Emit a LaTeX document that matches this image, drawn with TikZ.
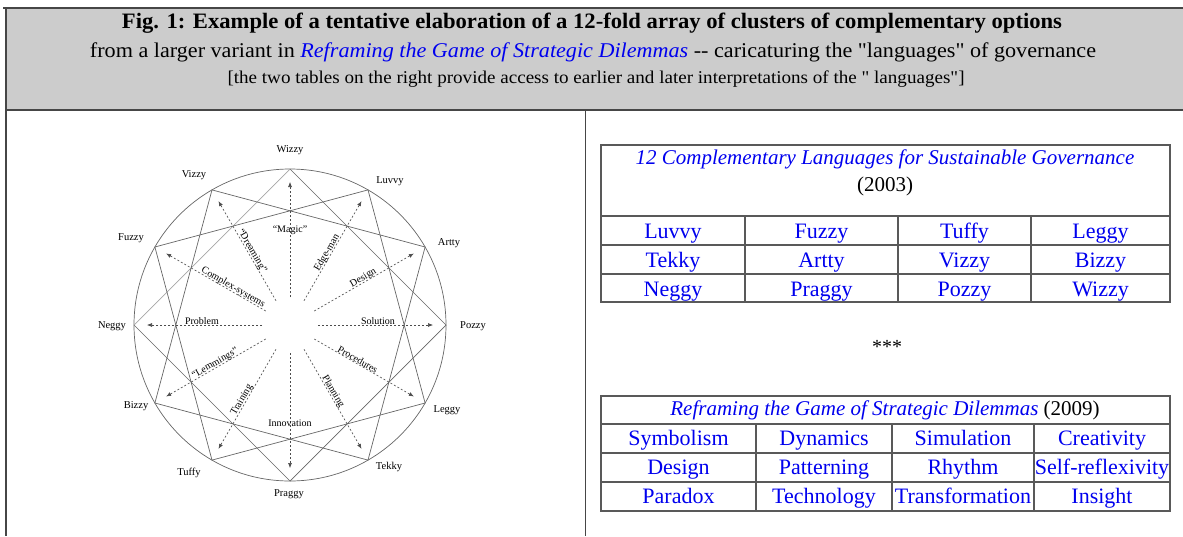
\documentclass[tikz,border=0pt]{standalone}
\usepackage{fontspec}
\setmainfont{Liberation Serif}[Ligatures=TeXOff]
\usepackage{graphicx}
\usetikzlibrary{calc, arrows.meta}

\definecolor{headgray}{RGB}{204,204,204}
\definecolor{framegray}{RGB}{70,70,70}
\definecolor{linkblue}{RGB}{0,0,238}

\newcommand{\fitto}[2]{\resizebox{#1}{\height}{#2}}

\begin{document}
\begin{tikzpicture}[x=1pt, y=1pt,
    frame/.style={framegray, line width=1.5pt},
    chord/.style={gray!80!black, line width=0.7pt},
    spoke/.style={gray!60!black, dash pattern=on 2pt off 2pt, line width=0.6pt, -{Latex[length=5pt, width=4pt]}},
    vlabel/.style={font=\fontsize{10.5}{12}\selectfont, inner sep=0pt},
    slabel/.style={font=\fontsize{10}{11}\selectfont, inner sep=0.5pt},
    cell/.style={font=\fontsize{22}{26}\selectfont, text=linkblue, inner sep=0pt, anchor=base},
    tabline/.style={black!65, line width=1.6pt},
]
    \useasboundingbox (0,0) rectangle (1183,-536);

    % header band
    \fill[headgray] (6,-9) rectangle (1183,-110);
    \draw[frame, line width=2.5pt] (3,-8) -- (1183,-8);
    \draw[frame] (6,-8) -- (6,-536);
    \draw[frame] (6,-110) -- (1183,-110);
    \draw[frame, line width=1pt] (585,-110) -- (585,-536);

    \node (title) at (592,-23) {\fitto{940pt}{\fontsize{22}{24}\selectfont\bfseries Fig. 1: Example of a tentative elaboration of a 12-fold array of clusters of complementary options}};
    \node (subtitle) at (593,-52) {\fitto{1006pt}{\fontsize{21}{24}\selectfont from a larger variant in \textcolor{linkblue}{\itshape Reframing the Game of Strategic Dilemmas} -- caricaturing the "languages" of governance}};
    \node (note) at (596,-79) {\fitto{737pt}{\fontsize{18}{20}\selectfont [the two tables on the right provide access to earlier and later interpretations of the " languages"]}};

    % circle of languages
    \coordinate (C) at (290,-325);
    \draw[chord] (C) circle (156);
    \foreach \n/\a in {Wizzy/90, Luvvy/60, Artty/30, Pozzy/0, Leggy/-30, Tekky/-60,
                       Praggy/-90, Tuffy/-120, Bizzy/-150, Neggy/180, Fuzzy/150, Vizzy/120}
        \coordinate (\n) at ($(C)+(\a:156)$);

    \foreach \n/\x/\y in {Wizzy/290/150, Luvvy/390/181, Artty/449/243, Pozzy/473/326,
                          Leggy/447/410, Tekky/389/467, Praggy/289/494, Tuffy/189/473,
                          Bizzy/136/406, Neggy/112/326, Fuzzy/131/238, Vizzy/194/175}
        \node[vlabel] (lab-\n) at (\x,-\y) {\n};

    % three squares
    \draw[chord] (Wizzy) -- (Pozzy) -- (Praggy) -- (Neggy);
    \draw[chord, gray!70] (Neggy) -- (Wizzy);
    \draw[chord] (Luvvy) -- (Leggy) -- (Tuffy) -- (Fuzzy) -- cycle;
    \draw[chord] (Artty) -- (Tekky) -- (Bizzy) -- (Vizzy) -- cycle;

    % spokes
    \foreach \a/\r/\rot/\txt in {90/91/0/{“Magic”}, 60/81/60/Edge-man, 30/87/30/Design,
                                 0/88/0/Solution, -30/76/-30/Procedures, -60/79/-60/Planning,
                                 -90/102/0/Innovation, -120/89/60/Training, -150/84/30/{“Lemmings”},
                                 180/88/0/Problem, 150/68/-30/Complex-systems, 120/83/-60/{“Dreaming”}} {
        \draw[spoke] ($(C)+(\a:28)$) -- ($(C)+(\a:143)$);
        \node[slabel, rotate=\rot] (sp\a) at ($(C)+(\a:\r)+(\rot+90:4)$) {\txt};
    }

    % table 2003
    \draw[tabline] (601,-145) rectangle (1170,-302);
    \foreach \y in {216, 245, 274}
        \draw[tabline] (601,-\y) -- (1170,-\y);
    \foreach \x in {745, 898, 1031}
        \draw[tabline] (\x,-216) -- (\x,-302);
    \node (t1title) at (885,-159) {\fontsize{21}{24}\selectfont\itshape\textcolor{linkblue}{12 Complementary Languages for Sustainable Governance}};
    \node (t1year) at (885,-186) {\fontsize{21}{24}\selectfont (2003)};
    \foreach \r/\y/\ta/\tb/\tc/\td in {1/238/Luvvy/Fuzzy/Tuffy/Leggy,
                                       2/267/Tekky/Artty/Vizzy/Bizzy,
                                       3/296/Neggy/Praggy/Pozzy/Wizzy} {
        \node[cell] (t1-\r-1) at (673,-\y) {\ta};
        \node[cell] (t1-\r-2) at (821.5,-\y) {\tb};
        \node[cell] (t1-\r-3) at (964.5,-\y) {\tc};
        \node[cell] (t1-\r-4) at (1100.5,-\y) {\td};
    }

    \node (stars) at (887,-347) {\fontsize{20}{24}\selectfont ***};

    % table 2009
    \draw[tabline] (601,-396) rectangle (1170,-511);
    \foreach \y in {424, 453, 482}
        \draw[tabline] (601,-\y) -- (1170,-\y);
    \foreach \x in {756, 892, 1034}
        \draw[tabline] (\x,-424) -- (\x,-511);
    \node (t2title) at (885,-410) {\fontsize{21}{24}\selectfont\textcolor{linkblue}{\itshape Reframing the Game of Strategic Dilemmas} (2009)};
    \foreach \r/\y/\ta/\tb/\tc/\td in {1/445/Symbolism/Dynamics/Simulation/Creativity,
                                       2/474/Design/Patterning/Rhythm/Self-reflexivity,
                                       3/503/Paradox/Technology/Transformation/Insight} {
        \node[cell] (t2-\r-1) at (678.5,-\y) {\ta};
        \node[cell] (t2-\r-2) at (824,-\y) {\tb};
        \node[cell] (t2-\r-3) at (963,-\y) {\tc};
        \node[cell] (t2-\r-4) at (1102,-\y) {\td};
    }
\end{tikzpicture}
\end{document}
